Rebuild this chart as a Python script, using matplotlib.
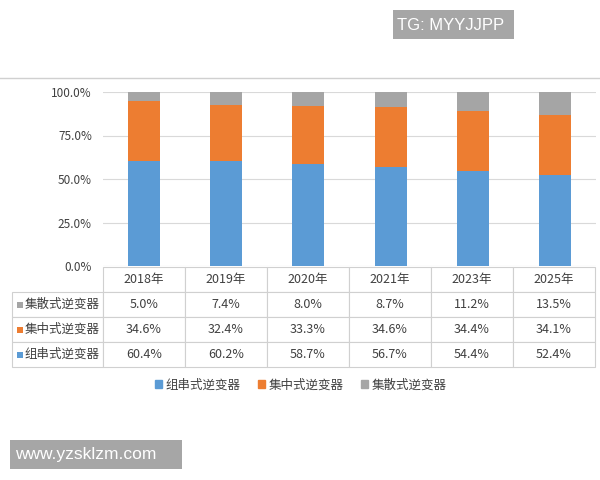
import matplotlib
matplotlib.use('Agg')
import matplotlib.pyplot as plt
from matplotlib.patches import Patch, Rectangle
from matplotlib.lines import Line2D
import numpy as np

plt.rcParams['font.family'] = ['Noto Sans CJK SC', 'DejaVu Sans']

years = ['2018年', '2019年', '2020年', '2021年', '2023年', '2025年']
string_inv = [60.4, 60.2, 58.7, 56.7, 54.4, 52.4]    # 组串式
central_inv = [34.6, 32.4, 33.3, 34.6, 34.4, 34.1]   # 集中式
distrib_inv = [5.0, 7.4, 8.0, 8.7, 11.2, 13.5]       # 集散式
names = ['组串式逆变器', '集中式逆变器', '集散式逆变器']
colors = ['#5b9bd5', '#ed7d31', '#a5a5a5']
yticks = [0, 25, 50, 75, 100]

W, H = 600, 480
fig = plt.figure(figsize=(6, 4.8), dpi=100)
ax = fig.add_axes([103 / W, 1 - 266 / H, 493 / W, 174 / H])

x = np.arange(len(years))
bottom = np.zeros(len(years))
for vals, c in zip([string_inv, central_inv, distrib_inv], colors):
    ax.bar(x, vals, 0.39, bottom=bottom, color=c, zorder=3)
    bottom += np.array(vals)

ax.set_xlim(-0.5, 5.5)
ax.set_ylim(0, 100)
ax.set_yticks(yticks)
ax.set_yticklabels([f'{v:.1f}%' for v in yticks])
ax.set_xticks([])
ax.yaxis.grid(True, color='#d9d9d9', lw=0.8)
ax.set_axisbelow(True)
ax.tick_params(axis='y', length=0, labelsize=8.5, labelcolor='#404040', pad=8)
for s in ax.spines.values():
    s.set_visible(False)

# data table under the bars
series = [distrib_inv, central_inv, string_inv]
row_names = [names[2], names[1], names[0]]
row_colors = [colors[2], colors[1], colors[0]]
rows = [[n] + [f'{v:.1f}%' for v in s] for n, s in zip(row_names, series)]
tab = ax.table(cellText=rows, colLabels=[''] + years,
               colWidths=[91] + [82] * 6,
               bbox=[-91 / 493, -101 / 174, 583 / 493, 100 / 174],
               cellLoc='center')
tab.auto_set_font_size(False)
tab.set_fontsize(9)
for (r, c), cell in tab.get_celld().items():
    cell.set_edgecolor('#d0d0d0')
    cell.set_linewidth(0.8)
    cell.get_text().set_color('#404040')
    if r == 0 and c == 0:
        cell.visible_edges = ''
    elif c == 0:
        cell._loc = 'left'
        cell.get_text().set_ha('left')
        cell.PAD = 0.14

for i, c in enumerate(row_colors):
    yc = 292 + 25 * i + 12.5
    fig.add_artist(Rectangle((16.5 / W, 1 - (yc + 3) / H), 6 / W, 6 / H,
                             transform=fig.transFigure, color=c, lw=0))

handles = [Patch(color=c, label=n) for c, n in zip(colors, names)]
fig.legend(handles=handles, loc='center', bbox_to_anchor=(301 / W, 1 - 385 / H),
           ncol=3, frameon=False, fontsize=9, handlelength=0.55, handleheight=0.55,
           columnspacing=1.4, handletextpad=0.3, labelcolor='#404040')

# thin line above the chart
fig.add_artist(Line2D([0, 1], [1 - 78 / H] * 2, color='#d0d0d0', lw=1))

# watermarks
fig.add_artist(Rectangle((393 / W, 1 - 39 / H), 121 / W, 29 / H,
                         transform=fig.transFigure, color='#a6a6a6', lw=0))
fig.text(397 / W, 1 - 25 / H, 'TG: MYYJJPP', color='white', fontsize=12,
         family='Liberation Sans', va='center')
fig.add_artist(Rectangle((10 / W, 1 - 469 / H), 172 / W, 29 / H,
                         transform=fig.transFigure, color='#a6a6a6', lw=0))
fig.text(15 / W, 1 - 455 / H, 'www.yzsklzm.com', color='white', fontsize=12.5,
         family='Liberation Sans', va='center')

fig.savefig('out.png', dpi=100)
